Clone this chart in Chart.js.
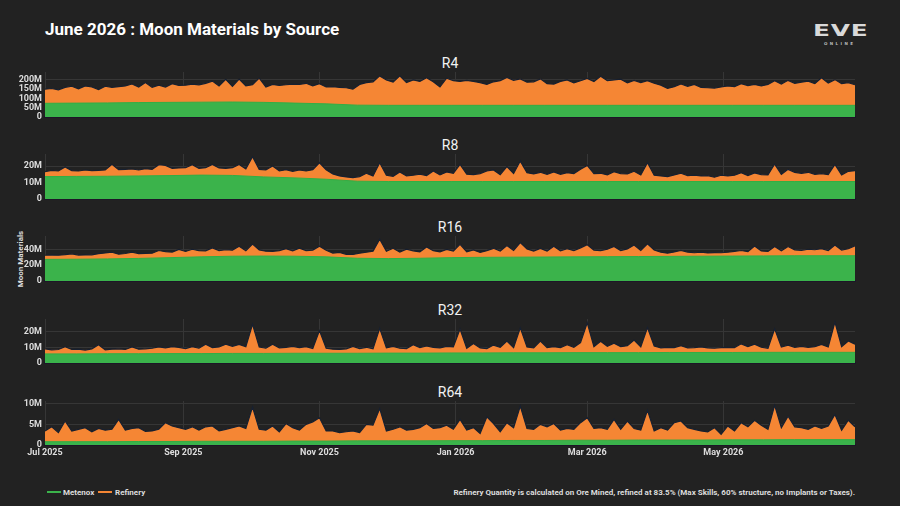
<!DOCTYPE html>
<html>
<head>
<meta charset="utf-8">
<title>June 2026 : Moon Materials by Source</title>
<script src="https://cdn.jsdelivr.net/npm/chart.js@4.4.1/dist/chart.umd.min.js"></script>
<style>
  html, body { margin: 0; padding: 0; background: #222222; }
  #page { position: relative; width: 900px; height: 506px; overflow: hidden; background: #222222;
          font-family: Roboto, "Noto Sans", sans-serif; color: #eeeeee; }
  #page canvas { position: absolute; left: 0; }
  .main-title { position: absolute; left: 45px; top: 19px; font-size: 17px; font-weight: 700; color: #ffffff; }
  .panel-title { position: absolute; left: 0; width: 900px; text-align: center; font-size: 14px; line-height: 16px; color: #f2f2f2; }
  .y-title { position: absolute; left: 20px; top: 259px; transform: translate(-50%, -50%) rotate(-90deg); font-size: 8px; font-weight: 700; color: #dddddd; white-space: nowrap; }
  .logo { position: absolute; left: 813px; top: 21px; font-family: "DejaVu Sans", sans-serif; font-size: 16px; font-weight: 700; color: #d9d9d9; transform: scaleX(1.55); transform-origin: left top; letter-spacing: 0.5px; }
  .logo-sub { position: absolute; left: 824px; top: 41px; font-family: "DejaVu Sans", sans-serif; font-size: 4px; font-weight: 700; letter-spacing: 2.4px; color: #bbbbbb; }
  .legend { position: absolute; top: 487px; font-size: 8px; font-weight: 700; color: #dddddd; line-height: 11px; }
  .swatch { position: absolute; top: 491px; width: 14px; height: 2px; }
  .note { position: absolute; right: 45px; top: 487px; font-size: 8px; font-weight: 700; color: #dddddd; line-height: 11px; white-space: nowrap; }
</style>
</head>
<body>
<div id="page">
  <div class="main-title">June 2026 : Moon Materials by Source</div>
  <div class="logo">EVE</div>
  <div class="logo-sub">ONLINE</div>
  <div class="y-title">Moon Materials</div>
  <div class="swatch" style="left:47px;background:#3bb34b"></div>
  <div class="legend" style="left:63px">Metenox</div>
  <div class="swatch" style="left:98px;background:#f58634"></div>
  <div class="legend" style="left:115px">Refinery</div>
  <div class="note">Refinery Quantity is calculated on Ore Mined, refined at 83.5% (Max Skills, 60% structure, no Implants or Taxes).</div>
</div>
<script>
// x is days since 1 Jul 2025
const STEP_TOTAL = 3;     // days between points of the stacked top (Metenox + Refinery)
const STEP_METENOX = 14;  // days between points of the Metenox layer
const X_MAX = 363;

const tickDays = [0, 62, 123, 184, 243, 304];
const tickLabels = ['Jul 2025', 'Sep 2025', 'Nov 2025', 'Jan 2026', 'Mar 2026', 'May 2026'];

const panelNames = ['R4', 'R8', 'R16', 'R32', 'R64'];
const yMax = [243, 27.3, 57, 28, 10.65];
const yTicks = [[0, 50, 100, 150, 200], [0, 10, 20], [0, 20, 40], [0, 10, 20], [0, 5, 10]];

// Metenox (millions)
const r4Metenox = [74, 75, 76, 78, 79, 80, 81, 79, 75, 71, 64, 63, 63, 63, 63, 63, 63, 63, 63, 63, 63, 63, 63, 63, 63, 63, 63];
const r8Metenox = [13.6, 13.7, 13.8, 14.0, 14.2, 14.5, 14.3, 13.4, 12.8, 12.0, 10.8, 10.6, 10.6, 10.6, 10.6, 10.6, 10.6, 10.6, 10.6, 10.6, 10.6, 10.6, 10.6, 10.6, 10.6, 10.6, 10.6];
const r16Metenox = [27.4, 27.6, 28.0, 28.6, 29.6, 30.6, 31.4, 31.6, 31.4, 30.6, 28.8, 28.4, 28.8, 29.6, 30.0, 30.2, 30.4, 30.6, 30.8, 31.0, 31.2, 31.4, 31.6, 31.8, 32.0, 32.0, 32.0];
const r32Metenox = [5.8, 5.8, 5.9, 5.9, 6.0, 6.0, 6.1, 6.1, 6.2, 6.2, 6.2, 6.3, 6.3, 6.4, 6.4, 6.5, 6.5, 6.6, 6.6, 6.6, 6.7, 6.7, 6.7, 6.8, 6.8, 6.8, 6.8];
const r64Metenox = [0.8, 0.8, 0.8, 0.85, 0.85, 0.9, 0.9, 0.9, 0.95, 0.95, 1.0, 1.0, 1.0, 1.05, 1.05, 1.1, 1.1, 1.15, 1.15, 1.2, 1.2, 1.2, 1.25, 1.25, 1.3, 1.3, 1.3];

// Metenox + Refinery stacked top (millions)
const r4Total = [150, 154, 147, 160, 166, 152, 168, 162, 148, 166,
  160, 164, 168, 178, 162, 186, 160, 172, 162, 180,
  170, 172, 178, 174, 182, 194, 168, 203, 166, 205,
  168, 174, 210, 162, 176, 170, 174, 178, 176, 182,
  168, 180, 162, 164, 160, 158, 150, 176, 186, 190,
  222, 200, 188, 222, 186, 200, 192, 212, 190, 162,
  210, 196, 192, 198, 192, 186, 176, 190, 196, 214,
  198, 206, 188, 190, 206, 180, 178, 192, 200, 184,
  196, 208, 192, 220, 196, 200, 204, 184, 198, 186,
  196, 182, 172, 154, 164, 178, 166, 176, 160, 158,
  156, 162, 168, 164, 180, 170, 176, 168, 176, 196,
  178, 198, 182, 188, 194, 180, 212, 184, 202, 180,
  186, 174];
const r8Total = [16.6, 17.4, 17.0, 19.4, 17.2, 17.0, 17.6, 17.2, 17.4, 17.6,
  21.0, 17.8, 18.0, 18.2, 17.6, 18.4, 18.0, 20.8, 20.4, 18.6,
  18.8, 19.0, 20.8, 18.6, 19.0, 21.0, 18.8, 18.6, 19.0, 21.0,
  18.2, 25.6, 18.0, 17.6, 20.0, 17.0, 17.8, 16.8, 17.6, 17.0,
  17.8, 22.0, 17.8, 15.2, 14.0, 13.4, 13.0, 13.6, 15.6, 14.0,
  22.0, 14.4, 13.8, 16.4, 14.0, 14.4, 15.0, 14.2, 17.0, 14.6,
  16.4, 15.6, 21.0, 15.0, 14.8, 15.4, 17.0, 17.6, 14.8, 19.6,
  15.4, 23.0, 16.0, 15.2, 16.2, 15.0, 16.4, 15.0, 16.0, 15.4,
  18.0, 20.4, 15.4, 15.6, 14.6, 16.6, 15.4, 15.2, 16.8, 14.6,
  22.0, 14.4, 14.0, 13.6, 14.6, 15.6, 14.2, 14.4, 14.0, 14.2,
  13.2, 14.4, 14.0, 14.4, 16.0, 14.2, 15.8, 14.8, 14.6, 21.2,
  15.0, 18.0, 16.2, 15.6, 16.2, 15.0, 15.4, 14.8, 21.0, 14.6,
  16.8, 17.2];
const r16Total = [32.6, 33.0, 32.6, 33.4, 34.4, 32.8, 33.0, 33.2, 34.6, 35.6,
  36.4, 34.0, 34.8, 36.6, 34.8, 35.0, 35.2, 38.6, 37.2, 36.6,
  40.0, 37.4, 40.2, 38.4, 38.2, 42.0, 38.6, 39.6, 39.0, 44.0,
  38.2, 46.8, 39.4, 37.8, 37.6, 38.4, 41.0, 38.2, 41.6, 38.6,
  39.2, 44.0, 39.0, 35.4, 36.2, 33.8, 33.6, 35.2, 36.4, 37.8,
  53.0, 37.6, 41.4, 36.6, 40.4, 38.2, 36.8, 43.0, 38.4, 37.0,
  40.0, 38.0, 46.4, 37.0, 39.4, 36.2, 38.4, 41.4, 38.0, 45.0,
  38.6, 48.6, 40.6, 38.0, 41.2, 37.8, 44.0, 38.2, 40.8, 38.4,
  42.0, 46.0, 39.2, 38.4, 40.2, 43.8, 38.6, 40.6, 45.6, 38.8,
  47.0, 39.4, 36.4, 35.2, 36.8, 38.8, 36.6, 35.8, 36.4, 35.6,
  36.0, 35.8, 36.4, 37.6, 38.6, 37.2, 44.2, 38.0, 37.4, 43.6,
  38.2, 43.6, 39.4, 38.8, 40.2, 39.6, 41.0, 38.6, 45.6, 39.2,
  40.8, 44.6];
const r32Total = [9.0, 8.4, 8.6, 10.4, 8.6, 8.8, 8.2, 9.0, 11.6, 8.4,
  8.8, 9.0, 8.6, 10.2, 8.8, 9.0, 9.4, 10.2, 9.6, 10.4,
  10.0, 9.2, 10.4, 9.4, 12.0, 9.8, 10.2, 12.0, 10.6, 11.8,
  10.4, 24.6, 10.2, 9.4, 12.0, 9.6, 10.0, 10.6, 9.8, 10.4,
  9.2, 20.6, 9.4, 8.8, 8.6, 9.0, 10.6, 9.2, 10.0, 9.0,
  22.0, 9.6, 10.6, 9.4, 9.2, 11.6, 9.8, 10.8, 10.0, 9.6,
  10.6, 10.2, 21.6, 9.4, 12.4, 9.6, 9.2, 11.4, 10.0, 14.0,
  9.8, 22.4, 10.2, 9.6, 14.0, 9.8, 10.4, 9.8, 11.6, 10.0,
  13.0, 25.6, 10.4, 13.8, 10.6, 12.6, 10.4, 11.0, 14.6, 10.2,
  22.6, 10.8, 9.6, 10.0, 9.8, 11.0, 9.6, 9.8, 10.2, 9.6,
  9.4, 9.8, 10.0, 9.8, 12.2, 10.4, 12.0, 10.0, 9.4, 21.8,
  10.2, 11.4, 10.0, 10.6, 10.0, 10.4, 11.8, 10.2, 26.0, 10.4,
  14.0, 12.0];
const r64Total = [3.4, 4.4, 3.0, 5.8, 3.4, 3.8, 4.2, 3.2, 4.0, 3.6,
  3.8, 6.2, 3.6, 4.0, 4.2, 3.3, 3.4, 3.8, 5.4, 4.6,
  4.2, 3.8, 4.4, 3.6, 4.4, 4.6, 3.4, 3.8, 4.2, 4.6,
  4.0, 9.2, 3.8, 3.6, 4.6, 3.2, 5.2, 4.2, 3.6, 5.0,
  5.6, 6.6, 3.4, 3.4, 3.0, 3.2, 3.4, 3.0, 5.0, 4.8,
  8.8, 3.4, 3.8, 4.4, 3.6, 3.8, 4.2, 5.2, 4.0, 4.2,
  4.8, 3.8, 6.2, 3.6, 4.2, 2.8, 6.8, 5.2, 3.2, 5.4,
  4.2, 9.4, 4.0, 3.8, 5.0, 4.4, 5.2, 3.6, 4.0, 3.8,
  5.4, 6.6, 4.0, 4.2, 3.8, 6.2, 3.8, 5.8, 4.0, 3.6,
  8.4, 3.4, 4.2, 3.6, 5.4, 5.8, 4.2, 3.8, 3.4, 3.2,
  4.2, 2.6, 4.6, 3.4, 5.4, 4.4, 6.0, 4.8, 3.8, 9.6,
  4.2, 7.0, 4.4, 4.2, 3.8, 4.6, 4.0, 4.6, 7.4, 3.6,
  6.0, 4.4];

const metenoxSeries = [r4Metenox, r8Metenox, r16Metenox, r32Metenox, r64Metenox];
const totalSeries = [r4Total, r8Total, r16Total, r32Total, r64Total];

const GREEN = '#3bb34b';
const ORANGE = '#f58634';
const plotTops = [72, 154, 236, 319, 401];
const plotHeights = [45, 45, 45, 44, 44];
const PAD = 10;
const tickFont = { family: 'Roboto, sans-serif', size: 9, weight: 'bold' };

function toPoints(values, step) {
  return values.map((v, i) => ({ x: i * step, y: v }));
}

const page = document.getElementById('page');

panelNames.forEach((name, k) => {
  const isLast = k === panelNames.length - 1;

  const title = document.createElement('div');
  title.className = 'panel-title';
  title.style.top = (plotTops[k] - 17) + 'px';
  title.textContent = name;
  page.appendChild(title);

  const xAxisH = isLast ? 22 : 0;
  const canvas = document.createElement('canvas');
  canvas.width = 900;
  canvas.height = PAD + plotHeights[k] + (isLast ? xAxisH : PAD);
  canvas.style.top = (plotTops[k] - PAD) + 'px';
  page.appendChild(canvas);

  new Chart(canvas.getContext('2d'), {
    type: 'line',
    data: {
      datasets: [
        {
          label: 'Metenox',
          data: toPoints(metenoxSeries[k], STEP_METENOX),
          backgroundColor: GREEN,
          borderColor: '#33ad45',
          borderWidth: 1,
          fill: 'origin',
          pointRadius: 0,
          tension: 0
        },
        {
          label: 'Refinery',
          data: toPoints(totalSeries[k], STEP_TOTAL),
          backgroundColor: ORANGE,
          borderColor: '#172030',
          borderWidth: 1.2,
          fill: 'origin',
          pointRadius: 0,
          tension: 0
        }
      ]
    },
    options: {
      responsive: false,
      animation: false,
      events: [],
      layout: { padding: { top: PAD, bottom: isLast ? 0 : PAD, left: 0, right: 45 } },
      plugins: { legend: { display: false }, tooltip: { enabled: false } },
      scales: {
        x: {
          type: 'linear',
          min: 0,
          max: X_MAX,
          offset: false,
          grid: { color: '#363636', drawTicks: false },
          border: { display: true, color: '#1d1628', width: 2 },
          afterBuildTicks: (scale) => { scale.ticks = tickDays.map(v => ({ value: v })); },
          afterFit: (scale) => { scale.height = xAxisH; scale.paddingLeft = 0; scale.paddingRight = 0; },
          ticks: {
            display: isLast,
            autoSkip: false,
            maxRotation: 0,
            padding: 2,
            color: '#dddddd',
            font: tickFont,
            callback: (value, index) => tickLabels[index]
          }
        },
        y: {
          min: 0,
          max: yMax[k],
          grid: { color: '#363636', drawTicks: false },
          border: { display: false },
          afterBuildTicks: (scale) => { scale.ticks = yTicks[k].map(v => ({ value: v })); },
          afterFit: (scale) => { scale.width = 45; scale.paddingTop = 0; scale.paddingBottom = 0; },
          ticks: {
            autoSkip: false,
            padding: 3,
            color: '#dddddd',
            font: tickFont,
            callback: (value) => value === 0 ? '0' : value + 'M'
          }
        }
      }
    }
  });
});
</script>
</body>
</html>
